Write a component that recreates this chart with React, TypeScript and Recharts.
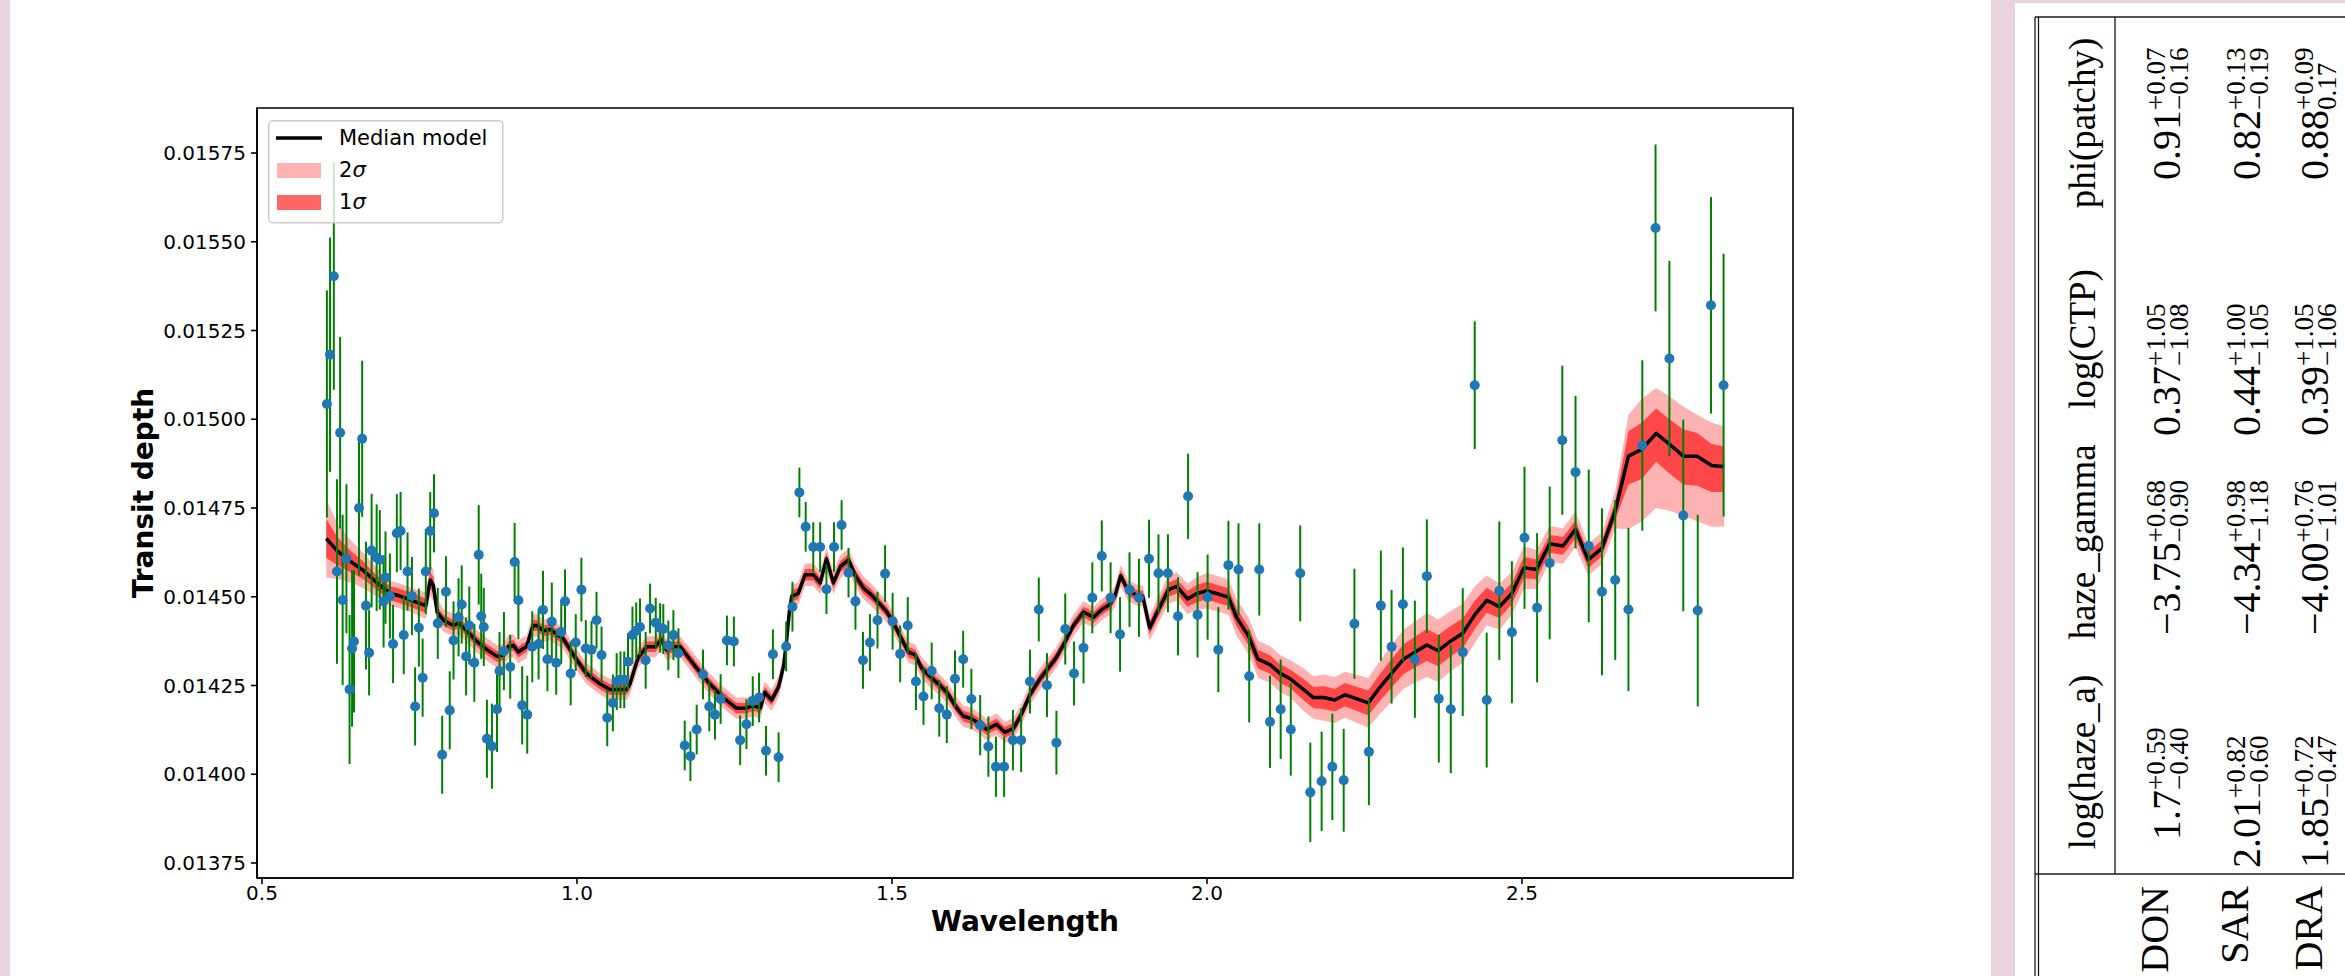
import {
  Area,
  ComposedChart,
  ErrorBar,
  Label,
  Legend,
  Line,
  ReferenceArea,
  Scatter,
  XAxis,
  YAxis,
} from 'recharts'

// observed spectrum: wavelength, transit depth, 1-sigma error
const obsWave = [
  0.603, 0.608, 0.614, 0.619, 0.624, 0.628, 0.634, 0.639, 0.643, 0.646,
  0.654, 0.659, 0.665, 0.67, 0.674, 0.682, 0.687, 0.693, 0.696, 0.703,
  0.708, 0.714, 0.72, 0.725, 0.731, 0.738, 0.743, 0.749, 0.755, 0.76,
  0.767, 0.773, 0.779, 0.786, 0.792, 0.798, 0.804, 0.812, 0.817, 0.824,
  0.829, 0.837, 0.844, 0.848, 0.852, 0.857, 0.865, 0.873, 0.877, 0.884,
  0.894, 0.901, 0.907, 0.913, 0.921, 0.929, 0.939, 0.946, 0.953, 0.96, 0.967,
  0.975, 0.981, 0.99, 0.998, 1.007, 1.014, 1.023, 1.031, 1.039,
  1.048, 1.057, 1.063, 1.069, 1.075, 1.081, 1.088, 1.094, 1.1, 1.109,
  1.116, 1.125, 1.132, 1.137, 1.145, 1.153, 1.161, 1.171, 1.18, 1.19,
  1.2, 1.21, 1.219, 1.228, 1.238, 1.249, 1.259, 1.269, 1.279, 1.289,
  1.3, 1.311, 1.32, 1.332, 1.342, 1.353, 1.363, 1.375, 1.386, 1.396,
  1.408, 1.42, 1.431, 1.442, 1.454, 1.465, 1.477, 1.489, 1.501, 1.513,
  1.525, 1.538, 1.55, 1.563, 1.575, 1.587, 1.6,
  1.613, 1.626, 1.64, 1.653, 1.665, 1.678, 1.692, 1.705, 1.719, 1.733,
  1.746, 1.761, 1.775, 1.789, 1.804, 1.818, 1.833, 1.847, 1.862, 1.877,
  1.892, 1.908, 1.923, 1.938, 1.954, 1.97, 1.985, 2.001, 2.018, 2.034,
  2.05, 2.067, 2.083, 2.1, 2.117, 2.133, 2.148, 2.164, 2.182, 2.199, 2.217, 2.234,
  2.257, 2.276, 2.293, 2.311, 2.33, 2.349, 2.368, 2.387, 2.406, 2.425,
  2.444, 2.464, 2.484, 2.504, 2.524, 2.544, 2.564, 2.585, 2.606, 2.627,
  2.648, 2.669, 2.691, 2.712, 2.734, 2.756, 2.779, 2.8, 2.82,
]

const obsDepth = [
  0.015043, 0.015182, 0.015403, 0.014571, 0.014962, 0.014491, 0.014607, 0.014239, 0.014354, 0.014374,
  0.01475, 0.014945, 0.014475, 0.014342, 0.01463, 0.01461, 0.014604, 0.014487, 0.014554, 0.014502,
  0.014367, 0.014679, 0.014685, 0.014392, 0.014571, 0.014502, 0.014191, 0.014413, 0.014272, 0.014571,
  0.014685, 0.014735, 0.014425, 0.014055, 0.014514, 0.01418, 0.014377, 0.014442, 0.014478, 0.014332,
  0.014419, 0.014314, 0.014618, 0.014445, 0.014415, 0.0141, 0.014079, 0.014183, 0.014291, 0.014347,
  0.014303, 0.014598, 0.01449, 0.014194, 0.014168, 0.014359, 0.014367, 0.014463, 0.014324, 0.01443, 0.014314,
  0.014401, 0.014487, 0.014284, 0.014371, 0.01452, 0.014354, 0.014351, 0.014434, 0.014336,
  0.014159, 0.014201, 0.014261, 0.014266, 0.014266, 0.014317, 0.014392, 0.014404, 0.014415, 0.014321,
  0.014467, 0.014427, 0.014412, 0.014409, 0.014363, 0.014392, 0.014341, 0.014081, 0.014051, 0.014126,
  0.014281, 0.014191, 0.014168, 0.014212, 0.014377, 0.014374, 0.014096, 0.014141, 0.014206, 0.014216,
  0.014066, 0.014338, 0.014048, 0.01436, 0.014472, 0.014794, 0.014697, 0.01464, 0.01464, 0.014521,
  0.01464, 0.014702, 0.014568, 0.014487, 0.014321, 0.014371, 0.014434, 0.014565, 0.014431, 0.014339,
  0.014419, 0.014261, 0.014219, 0.014291, 0.014186, 0.014168, 0.014269,
  0.014324, 0.014212, 0.014138, 0.014078, 0.014021, 0.014021, 0.014096, 0.014096, 0.014261, 0.014464,
  0.014251, 0.014089, 0.014409, 0.014284, 0.014356, 0.014497, 0.014615, 0.014497, 0.014394, 0.01452,
  0.014497, 0.014607, 0.014566, 0.014566, 0.014445, 0.014783, 0.014449, 0.014499, 0.014351, 0.014589,
  0.014577, 0.014276, 0.014577, 0.014148, 0.014183, 0.014126, 0.014566, 0.013949, 0.01398, 0.014021, 0.013983, 0.014424,
  0.014063, 0.014475, 0.014359, 0.014479, 0.014324, 0.014558, 0.014213, 0.014183, 0.014344, 0.015096,
  0.014209, 0.014517, 0.0144, 0.014666, 0.014469, 0.014595, 0.014941, 0.014851, 0.014643, 0.014514,
  0.014547, 0.014464, 0.014926, 0.015539, 0.015171, 0.014729, 0.014461, 0.015321, 0.015096,
]

const obsErr = [
  0.00032, 0.00033, 0.00032, 0.00026, 0.00027, 0.00024, 0.00021, 0.00021, 0.00022, 0.0002,
  0.00019, 0.00022, 0.00018, 0.00012, 0.00016, 0.00015, 0.00014, 0.00013, 0.00013, 0.00012,
  0.00011, 0.00011, 0.00011, 0.00011, 0.00011, 0.00011, 0.00011, 0.00011, 0.00011, 0.00012,
  0.00011, 0.00011, 0.0001, 0.00011, 0.0001, 0.00011, 0.00011, 0.00011, 0.00011, 0.00011,
  0.00011, 0.00011, 0.00014, 0.00012, 0.00011, 0.00011, 0.00012, 0.00012, 0.00011, 0.00011,
  0.00009, 0.00011, 0.00011, 0.00011, 0.00011, 0.0001, 0.0001, 0.00011, 0.00009, 0.00011, 0.00009,
  0.00009, 0.00009, 0.00009, 0.00008, 0.00009, 0.00008, 0.00008, 0.00008, 0.00008,
  0.00008, 0.00008, 0.00008, 0.00008, 0.00008, 0.00008, 0.00008, 0.00008, 0.00008, 0.00008,
  0.00007, 0.00007, 0.00007, 0.00007, 0.00007, 0.00007, 0.00007, 0.00007, 0.00007, 0.00007,
  0.00007, 0.00007, 0.00007, 0.00007, 0.00007, 0.00007, 0.00007, 0.00007, 0.00007, 0.00007,
  0.00007, 0.00007, 0.00007, 0.00007, 0.00007, 0.00007, 0.00007, 0.00007, 0.00007, 0.00007,
  0.00007, 0.00007, 0.00007, 0.00008, 0.00008, 0.00008, 0.00008, 0.00008, 0.00008, 0.00008,
  0.00008, 0.00008, 0.00008, 0.00008, 0.00008, 0.00008, 0.00008,
  0.00008, 0.000085, 0.000085, 0.000085, 0.000085, 0.000085, 0.000085, 0.00009, 0.00009, 0.00009,
  0.00009, 0.00009, 0.0001, 0.00009, 0.0001, 0.0001, 0.0001, 0.0001, 0.000105, 0.000105,
  0.00011, 0.00011, 0.00011, 0.00011, 0.00011, 0.00012, 0.00012, 0.00012, 0.00012, 0.000125,
  0.00013, 0.00013, 0.00013, 0.00013, 0.00014, 0.00013, 0.000135, 0.00014, 0.00014, 0.00015, 0.000145, 0.000155,
  0.00015, 0.000155, 0.00016, 0.00016, 0.000165, 0.00016, 0.00018, 0.00018, 0.00018, 0.00018,
  0.00019, 0.000195, 0.0002, 0.0002, 0.00021, 0.000215, 0.00021, 0.000215, 0.000215, 0.000235,
  0.000225, 0.00023, 0.00024, 0.000235, 0.000275, 0.00027, 0.00027, 0.000305, 0.00037,
]

// retrieved model: median and band half-widths
const modelWave = [
  0.602, 0.619, 0.64, 0.661, 0.682, 0.703, 0.719, 0.732, 0.746, 0.76,
  0.767, 0.772, 0.778, 0.788, 0.804, 0.812, 0.825, 0.841, 0.857, 0.873,
  0.883, 0.891, 0.899, 0.907, 0.912, 0.92, 0.93, 0.936, 0.947, 0.957,
  0.978, 1.0, 1.015, 1.037, 1.052, 1.079, 1.084, 1.097, 1.111, 1.124,
  1.134, 1.142, 1.153, 1.164, 1.174, 1.19, 1.211, 1.232, 1.253, 1.269,
  1.28, 1.291, 1.298, 1.309, 1.32, 1.328, 1.333, 1.337, 1.341, 1.351,
  1.362, 1.375, 1.386, 1.396, 1.407, 1.418, 1.431, 1.441, 1.455, 1.465,
  1.481, 1.492, 1.502, 1.515, 1.526, 1.537, 1.547, 1.56, 1.574, 1.587,
  1.603, 1.613, 1.627, 1.64, 1.65, 1.666, 1.679, 1.693, 1.706, 1.719,
  1.735, 1.748, 1.761, 1.775, 1.788, 1.804, 1.82, 1.833, 1.846, 1.854,
  1.863, 1.875, 1.888, 1.898, 1.909, 1.923, 1.939, 1.952, 1.969, 1.984,
  2.0, 2.015, 2.034, 2.047, 2.066, 2.081, 2.1, 2.116, 2.132, 2.153,
  2.169, 2.185, 2.203, 2.219, 2.256, 2.275, 2.293, 2.312, 2.33, 2.349,
  2.367, 2.386, 2.406, 2.425, 2.444, 2.464, 2.484, 2.503, 2.523, 2.544,
  2.565, 2.585, 2.605, 2.627, 2.648, 2.669, 2.69, 2.713, 2.734, 2.756,
  2.778, 2.801, 2.821,
]

const modelMedian = [
  0.014664, 0.01463, 0.0146, 0.014574, 0.01454, 0.01451, 0.014502, 0.014494, 0.014484, 0.014475,
  0.014547, 0.014532, 0.014457, 0.014434, 0.014419, 0.014427, 0.014404, 0.014374, 0.014351, 0.014332,
  0.014336, 0.014359, 0.014363, 0.014344, 0.014351, 0.014359, 0.014419, 0.014419, 0.014404, 0.014408,
  0.014382, 0.014321, 0.014284, 0.014254, 0.014239, 0.014239, 0.014254, 0.014329, 0.014359, 0.014359,
  0.014379, 0.014351, 0.014359, 0.014359, 0.014336, 0.014299, 0.014254, 0.014216, 0.014186, 0.014186,
  0.014194, 0.014186, 0.014231, 0.014209, 0.014246, 0.014306, 0.014382, 0.014457, 0.014502, 0.014509,
  0.014562, 0.014562, 0.014539, 0.014607, 0.014539, 0.014585, 0.014604, 0.014562, 0.014524, 0.014509,
  0.014479, 0.014457, 0.014427, 0.014382, 0.014344, 0.014336, 0.014299, 0.014276, 0.014254, 0.014231,
  0.014186, 0.014164, 0.014156, 0.014141, 0.014126, 0.014141, 0.014118, 0.014129, 0.014171, 0.014224,
  0.014269, 0.014299, 0.014329, 0.014374, 0.014419, 0.014457, 0.014442, 0.014464, 0.014479, 0.014502,
  0.014559, 0.014517, 0.014505, 0.014502, 0.014412, 0.014464, 0.01452, 0.014529, 0.014494, 0.014509,
  0.014517, 0.014509, 0.014499, 0.014442, 0.014389, 0.014324, 0.014309, 0.014284, 0.014269, 0.014239,
  0.014216, 0.014216, 0.014209, 0.014224, 0.014201, 0.014246, 0.014284, 0.014324, 0.014344, 0.014364,
  0.014348, 0.014374, 0.014397, 0.014449, 0.01449, 0.014472, 0.014509, 0.014582, 0.014577, 0.014649,
  0.014643, 0.01469, 0.014604, 0.014637, 0.014742, 0.014896, 0.014915, 0.01496, 0.01493, 0.014896,
  0.014896, 0.01487, 0.014866,
]

// band half-widths, in units of 1e-5 (transit depth)
const BAND_UNIT = 1e-5

const sigma2Up = [
  11, 8, 6, 5, 4, 3.5, 3.5, 3.5, 3.5, 3.8,
  4.5, 4.5, 3.5, 3.2, 3.2, 3.2, 3.2, 3.2, 3.2, 3.2,
  3.2, 3.2, 3.2, 3.2, 3.2, 3.2, 3.2, 3.2, 3.2, 3.2,
  3, 3, 3, 3, 3, 3, 3, 3, 3, 3,
  3, 3, 3, 3, 3, 3, 3, 3, 3, 3,
  3, 3, 3, 3, 3, 3, 3.2, 3.2, 3.2, 3.2,
  3.2, 3.2, 3.2, 3.2, 3.2, 3.2, 3.2, 3.2, 3.2, 3.2,
  3, 3, 3, 3, 3, 3, 3, 3, 3, 3,
  3, 3, 3, 3, 3, 3, 3, 3, 3, 3,
  3, 3, 3, 3, 3, 3, 3, 3, 3, 3,
  3, 3, 3, 3, 3.5, 3.8, 4, 4, 4.3, 4.6,
  5, 5, 5, 5.2, 5.2, 5.2, 5.2, 5.2, 5.2, 6,
  6, 6.5, 6.5, 6.5, 7, 7.5, 8, 8.3, 8.6, 9,
  8.8, 8.5, 8.3, 8, 7, 6.5, 6, 6, 5.5, 5,
  5, 5, 4.5, 4.5, 5.5, 11.7, 14.3, 12.8, 13.5, 14,
  11.7, 12, 11.4,
]

const sigma2Down = [
  11, 8, 6, 5, 4, 3.5, 3.5, 3.5, 3.5, 3.8,
  4.5, 4.5, 3.5, 3.2, 3.2, 3.2, 3.2, 3.2, 3.2, 3.2,
  3.2, 3.2, 3.2, 3.2, 3.2, 3.2, 3.2, 3.2, 3.2, 3.2,
  3, 3, 3, 3, 3, 3, 3, 3, 3, 3,
  3, 3, 3, 3, 3, 3, 3, 3, 3, 3,
  3, 3, 3, 3, 3, 3, 3.2, 3.2, 3.2, 3.2,
  3.2, 3.2, 3.2, 3.2, 3.2, 3.2, 3.2, 3.2, 3.2, 3.2,
  3, 3, 3, 3, 3, 3, 3, 3, 3, 3,
  3, 3, 3, 3, 3, 3, 3, 3, 3, 3,
  3, 3, 3, 3, 3, 3, 3, 3, 3, 3,
  3, 3, 3, 3, 3.5, 3.8, 4, 4, 4.3, 4.6,
  5, 5, 5, 5.2, 5.2, 5.2, 5.2, 5.2, 5.2, 6,
  6, 6.5, 6.5, 6.5, 7, 7.5, 8, 8.3, 8.6, 9,
  8.8, 8.5, 8.3, 8, 7, 6.5, 6, 6, 5.5, 5,
  5, 5, 4.5, 4.5, 5, 20.6, 20.3, 21, 18.8, 16.8,
  18.3, 17.3, 16.8,
]

const sigma1Up = [
  5.5, 4, 3, 2.5, 2, 2, 2, 2, 2, 2,
  2.3, 2.3, 1.6, 1.5, 1.5, 1.5, 1.5, 1.5, 1.5, 1.5,
  1.5, 1.5, 1.5, 1.5, 1.5, 1.5, 1.5, 1.5, 1.5, 1.5,
  1.5, 1.5, 1.5, 1.5, 1.5, 1.5, 1.5, 1.5, 1.5, 1.5,
  1.5, 1.5, 1.5, 1.5, 1.5, 1.5, 1.5, 1.5, 1.5, 1.5,
  1.5, 1.5, 1.5, 1.5, 1.5, 1.5, 1.6, 1.6, 1.6, 1.6,
  1.6, 1.6, 1.6, 1.6, 1.6, 1.6, 1.6, 1.6, 1.6, 1.6,
  1.5, 1.5, 1.5, 1.5, 1.5, 1.5, 1.5, 1.5, 1.5, 1.5,
  1.5, 1.5, 1.5, 1.5, 1.5, 1.5, 1.5, 1.5, 1.5, 1.5,
  1.5, 1.5, 1.5, 1.5, 1.5, 1.5, 1.5, 1.5, 1.5, 1.5,
  1.5, 1.5, 1.5, 1.5, 1.8, 2, 2, 2, 2.2, 2.4,
  2.5, 2.5, 2.5, 2.6, 2.6, 2.6, 2.6, 2.6, 2.6, 3,
  3, 3.2, 3.2, 3.3, 3.5, 3.8, 4, 4.2, 4.3, 4.5,
  4.4, 4.3, 4.2, 4, 3.5, 3.2, 3, 3, 2.8, 2.5,
  2.5, 2.5, 2.3, 2.3, 2.6, 7, 7.5, 7, 7, 7.5,
  6.5, 6, 5.7,
]

const sigma1Down = [
  5.5, 4, 3, 2.5, 2, 2, 2, 2, 2, 2,
  2.3, 2.3, 1.6, 1.5, 1.5, 1.5, 1.5, 1.5, 1.5, 1.5,
  1.5, 1.5, 1.5, 1.5, 1.5, 1.5, 1.5, 1.5, 1.5, 1.5,
  1.5, 1.5, 1.5, 1.5, 1.5, 1.5, 1.5, 1.5, 1.5, 1.5,
  1.5, 1.5, 1.5, 1.5, 1.5, 1.5, 1.5, 1.5, 1.5, 1.5,
  1.5, 1.5, 1.5, 1.5, 1.5, 1.5, 1.6, 1.6, 1.6, 1.6,
  1.6, 1.6, 1.6, 1.6, 1.6, 1.6, 1.6, 1.6, 1.6, 1.6,
  1.5, 1.5, 1.5, 1.5, 1.5, 1.5, 1.5, 1.5, 1.5, 1.5,
  1.5, 1.5, 1.5, 1.5, 1.5, 1.5, 1.5, 1.5, 1.5, 1.5,
  1.5, 1.5, 1.5, 1.5, 1.5, 1.5, 1.5, 1.5, 1.5, 1.5,
  1.5, 1.5, 1.5, 1.5, 1.8, 2, 2, 2, 2.2, 2.4,
  2.5, 2.5, 2.5, 2.6, 2.6, 2.6, 2.6, 2.6, 2.6, 3,
  3, 3.2, 3.2, 3.3, 3.5, 3.8, 4, 4.2, 4.3, 4.5,
  4.4, 4.3, 4.2, 4, 3.5, 3.2, 3, 3, 2.8, 2.5,
  2.5, 2.5, 2.3, 2.3, 2.6, 8, 8.3, 8, 8.3, 8,
  8.3, 7.5, 7.1,
]

const xTicks = [0.5, 1.0, 1.5, 2.0, 2.5]
const yTicks = [0.01375, 0.014, 0.01425, 0.0145, 0.01475, 0.015, 0.01525, 0.0155, 0.01575]

// the rotated results table beside the figure
const tableHeaders = ['log(haze_a)', 'haze_gamma', 'log(CTP)', 'phi(patchy)']
const tableRowLabels = ['DON', 'SAR', 'DRA']
const tableMain = [
  ['1.7', '\u22123.75', '0.37', '0.91'],
  ['2.01', '\u22124.34', '0.44', '0.82'],
  ['1.85', '\u22124.00', '0.39', '0.88'],
]
const tableSup = [
  ['+0.59', '+0.68', '+1.05', '+0.07'],
  ['+0.82', '+0.98', '+1.00', '+0.13'],
  ['+0.72', '+0.76', '+1.05', '+0.09'],
]
const tableSub = [
  ['\u22120.40', '\u22120.90', '\u22121.08', '\u22120.16'],
  ['\u22120.60', '\u22121.18', '\u22121.05', '\u22120.19'],
  ['\u22120.47', '\u22121.01', '\u22121.06', '0.17'],
]

const PINK = '#e9d3df'
const FONT = 'DejaVu Sans'
const X_DOMAIN: [number, number] = [0.49206, 2.9302]
const Y_DOMAIN: [number, number] = [0.0137077, 0.0158768]

const obs = obsWave.map((w, i) => ({ wave: w, depth: obsDepth[i], err: obsErr[i] }))

const model = modelWave.map((w, i) => {
  const m = modelMedian[i]
  return {
    wave: w,
    median: m,
    band2: [m - sigma2Down[i] * BAND_UNIT, m + sigma2Up[i] * BAND_UNIT],
    band1: [m - sigma1Down[i] * BAND_UNIT, m + sigma1Up[i] * BAND_UNIT],
  }
})

function LegendBox() {
  return (
    <svg width={236} height={104} style={{ display: 'block' }}>
      <rect x={0.75} y={0.75} width={234} height={102} rx={4} fill="#fff" fillOpacity={0.8} stroke="#cccccc" strokeWidth={1.5} />
      <line x1={8} x2={54} y1={18} y2={18} stroke="#000" strokeWidth={3.5} />
      <rect x={9} y={43} width={44} height={15} fill="#ff0000" fillOpacity={0.3} />
      <rect x={9} y={75} width={44} height={15} fill="#ff0000" fillOpacity={0.6} />
      <g fontFamily={FONT} fontSize={21} fill="#000">
        <text x={71} y={25}>Median model</text>
        <text x={71} y={57}>
          2<tspan fontStyle="italic">σ</tspan>
        </text>
        <text x={71} y={89}>
          1<tspan fontStyle="italic">σ</tspan>
        </text>
      </g>
    </svg>
  )
}

function SpectrumChart() {
  const axisStroke = { stroke: '#000', strokeWidth: 1.6 }
  const tickStyle = { fontSize: 20, fill: '#000', fontFamily: FONT }
  return (
    <ComposedChart width={1980} height={976} margin={{ top: 108, right: 187, bottom: 58, left: 157 }}>
      <XAxis
        dataKey="wave"
        type="number"
        domain={X_DOMAIN}
        allowDataOverflow
        ticks={xTicks}
        interval={0}
        tickFormatter={(v) => Number(v).toFixed(1)}
        tick={tickStyle}
        tickSize={6}
        tickMargin={2}
        axisLine={axisStroke}
        tickLine={axisStroke}
        height={40}
      >
        <Label
          content={() => (
            <text x={1025} y={931} textAnchor="middle" fontFamily={FONT} fontWeight="bold" fontSize={28} fill="#000">
              Wavelength
            </text>
          )}
        />
      </XAxis>
      <YAxis
        type="number"
        domain={Y_DOMAIN}
        allowDataOverflow
        ticks={yTicks}
        interval={0}
        tickFormatter={(v) => Number(v).toFixed(5)}
        tick={tickStyle}
        tickSize={6}
        tickMargin={5}
        axisLine={axisStroke}
        tickLine={axisStroke}
        width={100}
      >
        <Label
          content={() => (
            <text x={153} y={493} transform="rotate(-90 153 493)" textAnchor="middle" fontFamily={FONT} fontWeight="bold" fontSize={28} fill="#000">
              Transit depth
            </text>
          )}
        />
      </YAxis>
      <Area data={model} dataKey="band2" type="linear" stroke="none" fill="#ff0000" fillOpacity={0.3} isAnimationActive={false} dot={false} activeDot={false} />
      <Area data={model} dataKey="band1" type="linear" stroke="none" fill="#ff0000" fillOpacity={0.6} isAnimationActive={false} dot={false} activeDot={false} />
      <Line data={model} dataKey="median" type="linear" stroke="#000" strokeWidth={3.5} strokeLinejoin="round" dot={false} activeDot={false} isAnimationActive={false} />
      <Scatter
        data={obs}
        dataKey="depth"
        isAnimationActive={false}
        shape={(p: any) => <circle cx={p.cx} cy={p.cy} r={5} fill="#1f77b4" />}
      >
        <ErrorBar dataKey="err" direction="y" width={0} stroke="#008000" strokeWidth={2} isAnimationActive={false} />
      </Scatter>
      {/* closes the frame on the top and right sides */}
      <ReferenceArea
        x1={X_DOMAIN[0]}
        x2={X_DOMAIN[1]}
        y1={Y_DOMAIN[0]}
        y2={Y_DOMAIN[1]}
        fill="none"
        stroke="#000"
        strokeWidth={1.6}
        ifOverflow="visible"
      />
      <Legend
        layout="horizontal"
        verticalAlign="middle"
        align="center"
        width={236}
        height={104}
        wrapperStyle={{ left: 268, top: 120, width: 236, height: 104 }}
        content={() => <LegendBox />}
      />
    </ComposedChart>
  )
}

function RotatedTable() {
  // drawn in a frame turned a quarter turn: local x runs up the page, local y runs right
  const headerAt = [214, 434, 637, 853]
  const cellStart = [
    [136, 341, 540, 796],
    [108, 341, 540, 796],
    [108, 341, 540, 796],
  ]
  const rowBase = [2180, 2260, 2328]
  const labelBase = [2168, 2248, 2322]
  return (
    <svg width={2345} height={976} style={{ position: 'absolute', left: 0, top: 0 }}>
      <g stroke="#1a1a1a" strokeWidth={1.3}>
        <line x1={2035} y1={17} x2={2035} y2={976} />
        <line x1={2038.5} y1={17} x2={2038.5} y2={976} />
        <line x1={2035} y1={17} x2={2345} y2={17} />
        <line x1={2115} y1={17} x2={2115} y2={874} />
        <line x1={2035} y1={874} x2={2345} y2={874} />
      </g>
      <g transform="translate(0 976) rotate(-90)" fontFamily="Liberation Serif" fill="#000">
        {tableHeaders.map((h, i) => (
          <text key={h} x={headerAt[i]} y={2095} textAnchor="middle" fontSize={37}>
            {h}
          </text>
        ))}
        {tableMain.map((row, r) =>
          row.map((m, c) => (
            <g key={`${r}-${c}`}>
              <text x={cellStart[r][c]} y={rowBase[r]} fontSize={40}>
                {m}
                <tspan dy={-15} fontSize={27}>
                  {tableSup[r][c]}
                </tspan>
              </text>
              <text x={cellStart[r][c]} y={rowBase[r]} fontSize={40}>
                <tspan fill="none">{m}</tspan>
                <tspan dy={8} fontSize={27}>
                  {tableSub[r][c]}
                </tspan>
              </text>
            </g>
          )),
        )}
        {tableRowLabels.map((l, r) => (
          <text key={l} x={90} y={labelBase[r]} textAnchor="end" fontSize={40}>
            {l}
          </text>
        ))}
      </g>
    </svg>
  )
}

export default function App() {
  return (
    <div style={{ position: 'absolute', left: 0, top: 0, width: 2345, height: 976, background: '#fff', overflow: 'hidden' }}>
      <div style={{ position: 'absolute', left: 0, top: 0, width: 10, height: 976, background: PINK }} />
      <div style={{ position: 'absolute', left: 1991, top: 0, width: 354, height: 976, background: PINK }} />
      <div style={{ position: 'absolute', left: 2015, top: 3, width: 330, height: 973, background: '#fff' }} />
      <div style={{ position: 'absolute', left: 0, top: 0 }}>
        <SpectrumChart />
      </div>
      <RotatedTable />
    </div>
  )
}
